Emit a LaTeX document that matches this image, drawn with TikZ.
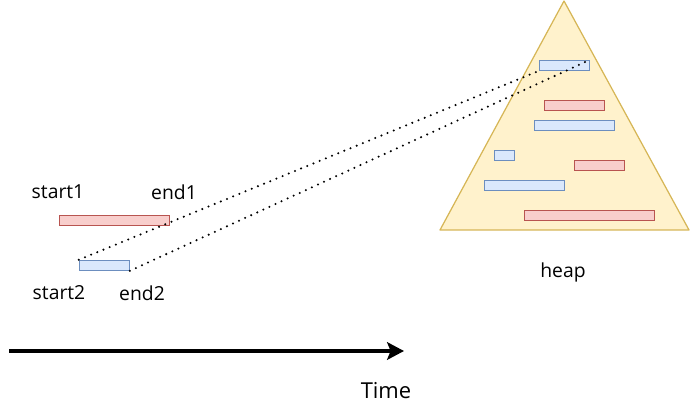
\documentclass[tikz,border=0pt]{standalone}
\usepackage{fontspec}
\setmainfont{Open Sans}
\usetikzlibrary{arrows.meta}

\definecolor{bluefill}{HTML}{DAE8FC}
\definecolor{bluedraw}{HTML}{6C8EBF}
\definecolor{redfill}{HTML}{F8CECC}
\definecolor{reddraw}{HTML}{B85450}
\definecolor{heapfill}{HTML}{FFF2CC}
\definecolor{heapdraw}{HTML}{D6B656}

\begin{document}
\begin{tikzpicture}[x=0.02cm, y=-0.02cm, every node/.style={font=\fontsize{11}{13}\selectfont},
	bar/.style={draw, line width=0.6pt, inner sep=0pt, minimum height=0.2cm},
	bluebar/.style={bar, fill=bluefill, draw=bluedraw},
	redbar/.style={bar, fill=redfill, draw=reddraw},
	link/.style={line width=1.3pt, line cap=round, dash pattern=on 0pt off 3.8pt}]
	\useasboundingbox (0,0) rectangle (690,405);
	\draw[fill=heapfill, draw=heapdraw, line width=0.7pt, line join=round] (440,230) -- (564,1) -- (689,230) -- cycle;
	\node[bluebar, minimum width=1.0cm] (h1) at (564.5,65.3) {};
	\node[redbar, minimum width=1.2cm] (h2) at (574.3,105.3) {};
	\node[bluebar, minimum width=1.6cm] (h3) at (574.3,125.3) {};
	\node[bluebar, minimum width=0.4cm] (h4) at (504.3,155.3) {};
	\node[redbar, minimum width=1.0cm] (h5) at (599.3,165.3) {};
	\node[bluebar, minimum width=1.6cm] (h6) at (524.3,185.3) {};
	\node[redbar, minimum width=2.6cm] (h7) at (589.3,215.3) {};
	\node[redbar, minimum width=2.2cm] (iv1) at (114.3,220.3) {};
	\node[bluebar, minimum width=1.0cm] (iv2) at (104.3,265.3) {};
	\node (s1) at (58,192) {start1};
	\node (e1) at (174,192) {end1};
	\node (s2) at (59,293) {start2};
	\node (e2) at (142,293) {end2};
	\node (heap) at (563,272) {heap};
	\draw[link] (iv2.north west) -- (h1.south west);
	\draw[link] (iv2.south east) -- (h1.north east);
	\coordinate (t0) at (9,351);
	\coordinate (t1) at (404,351);
	\draw[line width=2.2pt, -{Stealth[length=9.6pt, width=10pt, inset=2pt]}] (t0) -- (t1);
	\node[font=\fontsize{12.5}{15}\selectfont] (time) at (386,391) {Time};
\end{tikzpicture}
\end{document}
